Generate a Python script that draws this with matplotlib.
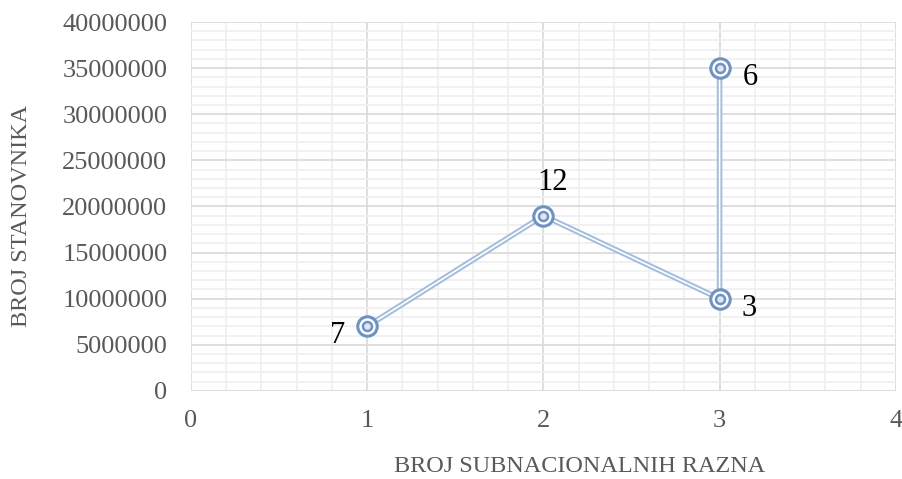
import numpy as np
import matplotlib.pyplot as plt
from matplotlib.ticker import MultipleLocator

plt.rcParams['font.family'] = ['Liberation Serif', 'DejaVu Serif']

broj_razina = [1, 2, 3, 3]
broj_stanovnika = [7000000, 19000000, 10000000, 35000000]
oznake = ['7', '12', '3', '6']
pomaci = [(-21, -6.5), (6.5, 24), (21.5, -7), (22, -6.5)]

fig = plt.figure(figsize=(9.03, 4.79), dpi=100)
ax = fig.add_axes([0.2115, 0.184, 0.7805, 0.770])

ax.set_xlim(0, 4)
ax.set_ylim(0, 40000000)
ax.xaxis.set_major_locator(MultipleLocator(1))
ax.xaxis.set_minor_locator(MultipleLocator(0.2))
ax.yaxis.set_major_locator(MultipleLocator(5000000))
ax.yaxis.set_minor_locator(MultipleLocator(1000000))
ax.grid(which='major', color='#d9d9d9', lw=1.2)
ax.grid(which='minor', color='#efefef', lw=1.2)
ax.set_axisbelow(True)
for s in ax.spines.values():
    s.set_visible(False)
ax.tick_params(which='both', length=0, labelsize=19, labelcolor='#595959')
ax.tick_params(axis='x', pad=14)
ax.tick_params(axis='y', pad=17)
ax.ticklabel_format(style='plain', axis='y', useOffset=False)

# double line
ax.plot(broj_razina, broj_stanovnika, color='#a3bcdc', lw=4, solid_joinstyle='miter')
ax.plot(broj_razina, broj_stanovnika, color='white', lw=1.2, solid_joinstyle='miter')
ax.plot(broj_razina, broj_stanovnika, ls='none', marker='o', ms=14, mfc='white',
        mec='#6f92c2', mew=2.2)
ax.plot(broj_razina, broj_stanovnika, ls='none', marker='o', ms=6.5, mfc='#dfe6f0',
        mec='#6f92c2', mew=1.8)

for x, y, t, o in zip(broj_razina, broj_stanovnika, oznake, pomaci):
    ax.annotate(t, (x, y), xytext=o, textcoords='offset points', ha='center',
                va='center', fontsize=22, color='black')

fig.text(0.024, 0.549, 'BROJ STANOVNIKA', rotation=90, ha='center', va='center',
         fontsize=17.5, color='#595959')
fig.text(0.642, 0.026, 'BROJ SUBNACIONALNIH RAZNA', ha='center', va='center',
         fontsize=17.5, color='#595959')

fig.savefig('out.png', dpi=100)
